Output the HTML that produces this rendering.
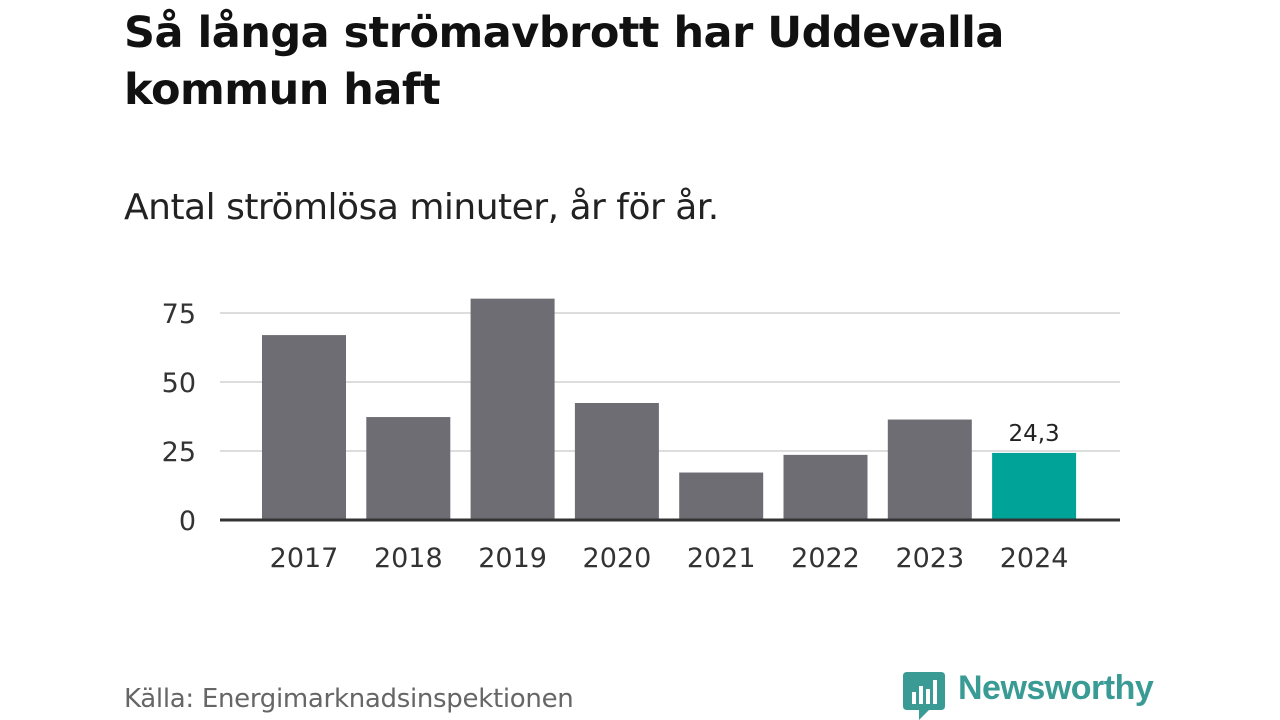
<!DOCTYPE html>
<html><head><meta charset="utf-8"><style>
body{margin:0;width:1280px;height:720px;background:#fff;font-family:"Liberation Sans","DejaVu Sans",sans-serif;overflow:hidden;position:relative}
.t{position:absolute;left:124px;top:5px;font-size:43px;font-weight:bold;color:#111;line-height:57px;font-family:"DejaVu Sans","Liberation Sans",sans-serif;letter-spacing:-0.5px}
.s{position:absolute;left:124px;top:187px;font-size:36px;color:#222;font-family:"DejaVu Sans","Liberation Sans",sans-serif;letter-spacing:-0.5px}
.src{position:absolute;left:124px;top:684px;font-size:26px;color:#666;font-family:"DejaVu Sans","Liberation Sans",sans-serif;letter-spacing:-0.3px}
.logo{position:absolute;left:958px;top:669px;font-size:34px;font-weight:bold;color:#3a9b94;letter-spacing:-0.5px}
</style></head><body>
<div class="t">Så långa strömavbrott har Uddevalla<br>kommun haft</div>
<div class="s">Antal strömlösa minuter, år för år.</div>
<svg id="c" width="1280" height="720" style="position:absolute;left:0;top:0"></svg>
<div class="src">Källa: Energimarknadsinspektionen</div>
<svg style="position:absolute;left:903px;top:672px" width="42" height="48">
<path d="M4 0H38Q42 0 42 4V34Q42 38 38 38H26L16 48V38H4Q0 38 0 34V4Q0 0 4 0Z" fill="#3a9b94"/>
<rect x="9" y="20" width="4" height="12" fill="#fff"/><rect x="16" y="14" width="4" height="18" fill="#fff"/><rect x="23" y="17" width="4" height="15" fill="#fff"/><rect x="30" y="8" width="4" height="24" fill="#fff"/>
</svg>
<div class="logo">Newsworthy</div>
<script>
const categories=["2017","2018","2019","2020","2021","2022","2023","2024"];
const values=[67,37.3,80.2,42.4,17.2,23.6,36.4,24.3];
const ticks=[0,25,50,75];
const svg=document.getElementById('c');
const NS="http://www.w3.org/2000/svg";
const y0=520,k=69/25,x0=220,x1=1120,pitch=104.3,bw=84,bx0=262;
const y=v=>y0-v*k;
function mk(t,a){const e=document.createElementNS(NS,t);for(const n in a)e.setAttribute(n,a[n]);svg.appendChild(e);return e;}
ticks.forEach(t=>{
 if(t>0){const g=mk('line',{x1:x0,x2:x1,y1:y(t),y2:y(t),stroke:'#ddd','stroke-width':2});
 
 }
 const l=mk('text',{x:196,y:y(t)+10,'text-anchor':'end','font-size':27,fill:'#333','font-family':'DejaVu Sans,sans-serif'});l.textContent=t;
 
 
});
categories.forEach((c,i)=>{
 const x=bx0+i*pitch;const last=i===categories.length-1;
 const r=mk('rect',{x:x,y:y(values[i]),width:bw,height:values[i]*k,fill:last?'#00a398':'#6e6d74'});
 
 
 const l=mk('text',{x:x+bw/2,y:567,'text-anchor':'middle','font-size':27,fill:'#333','font-family':'DejaVu Sans,sans-serif'});l.textContent=c;
 
 
 if(last){const v=mk('text',{x:x+bw/2,y:y(values[i])-12,'text-anchor':'middle','font-size':23,fill:'#222','font-family':'DejaVu Sans,sans-serif'});v.textContent=String(values[i]).replace('.',',');
 
 }
});
const ax=mk('line',{x1:x0,x2:x1,y1:y0,y2:y0,stroke:'#333','stroke-width':3});


</script>
</body></html>
